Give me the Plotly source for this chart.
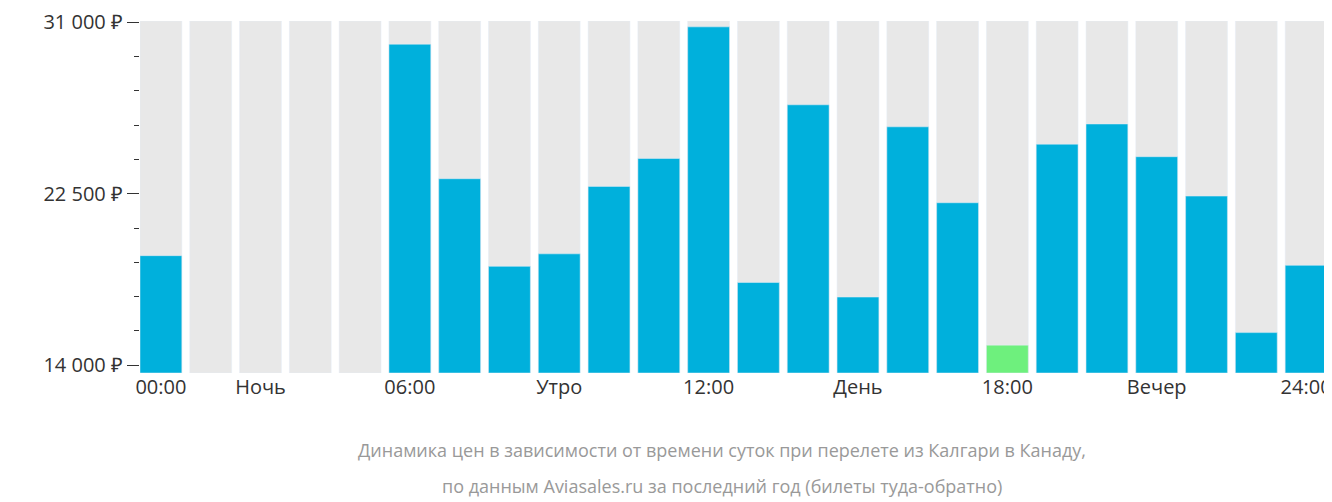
import plotly.graph_objects as go

hours = list(range(24))
prices = [19430, None, None, None, None, 29900, 23240, 18900, 19520, 22860, 24240, 30760,
          18100, 26900, 17380, 25810, 22050, 15000, 24950, 25950, 24330, 22380, 15620, 18950]
cheapest_hour = 17
tick_pos = [0, 2, 5, 8, 11, 14, 17, 20, 23]
tick_text = ['00:00', 'Ночь', '06:00', 'Утро', '12:00', 'День', '18:00', 'Вечер', '24:00']
y_ticks = [14000, 22500, 31000]
y_tick_text = ['14 000 ₽', '22 500 ₽', '31 000 ₽']
caption = ['Динамика цен в зависимости от времени суток при перелете из Калгари в Канаду,',
           'по данным Aviasales.ru за последний год (билеты туда-обратно)']

y_lo, y_hi = 13620, 31050

colors = ['#6ef07d' if h == cheapest_hour else '#00b0dc' for h in hours]
vals = [(p - y_lo) if p is not None else None for p in prices]

fig = go.Figure()
fig.add_trace(go.Bar(x=hours, y=[y_hi - y_lo] * 24, base=y_lo, marker_color='#e8e8e8',
                     hoverinfo='skip', showlegend=False))
fig.add_trace(go.Bar(x=hours, y=vals, base=y_lo, marker_color=colors,
                     hovertemplate='%{x}:00<br>%{customdata} ₽<extra></extra>',
                     customdata=prices, showlegend=False))
fig.update_layout(
    barmode='overlay',
    bargap=0.16,
    width=1324,
    height=494,
    margin=dict(l=132, r=0, t=0, b=129),
    plot_bgcolor='white',
    paper_bgcolor='white',
    font=dict(family='Open Sans', size=20, color='#333'),
    xaxis=dict(range=[-0.42, 23.42], tickvals=tick_pos, ticktext=tick_text,
               showgrid=False, zeroline=False, ticks='', ticklabeloverflow='allow'),
    yaxis=dict(range=[y_lo, y_hi], tickvals=y_ticks, ticktext=y_tick_text,
               showgrid=False, zeroline=False, ticks='outside', ticklen=12,
               ticklabeloverflow='allow',
               tickcolor='#333', minor=dict(dtick=1700, tick0=14000, ticks='outside',
                                            ticklen=5, tickcolor='#333')),
    annotations=[
        dict(text=caption[0], xref='paper', yref='paper', x=0.49, y=-0.18, yanchor='top',
             showarrow=False, font=dict(size=18, color='#999')),
        dict(text=caption[1], xref='paper', yref='paper', x=0.49, y=-0.28, yanchor='top',
             showarrow=False, font=dict(size=18, color='#999')),
    ],
)
fig.write_html('out.html')
